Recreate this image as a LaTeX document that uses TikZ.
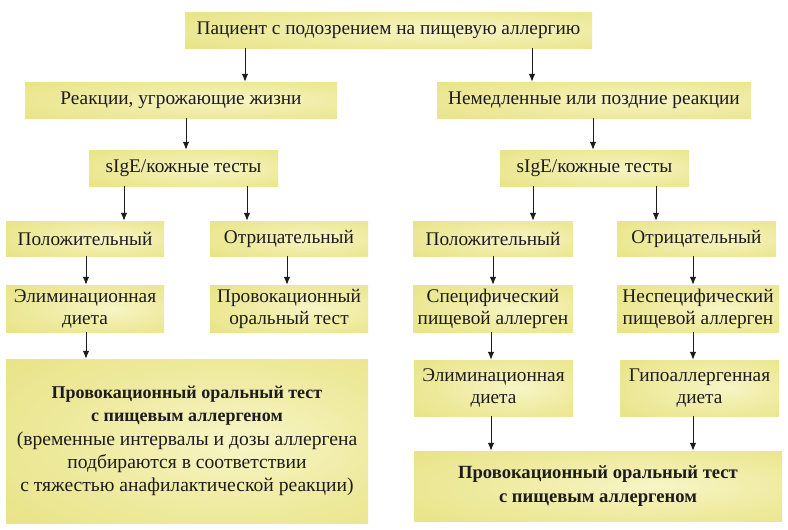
\documentclass[tikz,border=0pt]{standalone}
\usepackage{fontspec}
\setmainfont{Liberation Serif}
\usetikzlibrary{arrows.meta}
\definecolor{bxout}{RGB}{229,224,122}
\definecolor{bxmid}{RGB}{238,234,158}
\definecolor{bxin}{RGB}{247,245,198}
\definecolor{ink}{RGB}{30,27,28}
\pgfdeclareradialshading{boxshade}{\pgfpoint{8bp}{0bp}}{color(0bp)=(bxin); color(22bp)=(bxmid); color(48bp)=(bxout); color(80bp)=(bxout)}
\tikzset{
  box/.style={shading=boxshade, inner sep=0pt, align=center, text=ink,
    font=\fontsize{19.3}{22}\selectfont},
  arr/.style={draw=ink, line width=1pt, -{Latex[length=8pt,width=6.5pt]}},
}
\newcommand{\bfl}[1]{{\fontsize{18}{23}\selectfont\bfseries #1}}
\newcommand{\bfr}[1]{{\fontsize{18.6}{24}\selectfont\bfseries #1}}
\begin{document}
\begin{tikzpicture}[x=1pt,y=-1pt]
\useasboundingbox[fill=white] (0,0) rectangle (788,530);
\node[box, minimum width=407pt, minimum height=36pt] (top) at (388.5,30) {Пациент с подозрением на пищевую аллергию};
\node[box, minimum width=312pt, minimum height=36pt] (r1l) at (181,100) {Реакции, угрожающие жизни};
\node[box, minimum width=314pt, minimum height=36pt] (r1r) at (594,100) {Немедленные или поздние реакции};
\node[box, minimum width=189pt, minimum height=36pt] (sl) at (183.5,168) {sIgE/кожные тесты};
\node[box, minimum width=189pt, minimum height=36pt] (sr) at (594.5,168) {sIgE/кожные тесты};
\node[box, minimum width=158pt, minimum height=35pt] (posl) at (85,238.5) {Положительный};
\node[box, minimum width=158pt, minimum height=35pt] (negl) at (289,238.5) {Отрицательный};
\node[box, minimum width=160pt, minimum height=35pt] (posr) at (493,238.5) {Положительный};
\node[box, minimum width=159pt, minimum height=35pt] (negr) at (696.5,238.5) {Отрицательный};
\node[box, minimum width=158pt, minimum height=47pt] (eliml) at (85,308.5) {Элиминационная\\диета};
\node[box, minimum width=158pt, minimum height=47pt] (provl) at (289,308.5) {Провокационный\\оральный тест};
\node[box, minimum width=160pt, minimum height=47pt] (spec) at (493,308.5) {Специфический\\пищевой аллерген};
\node[box, minimum width=162pt, minimum height=47pt] (nonspec) at (698,308.5) {Неспецифический\\пищевой аллерген};
\node[box, minimum width=362pt, minimum height=164pt, font=\fontsize{19.6}{23.2}\selectfont] (big) at (187,441) {\bfl{Провокационный оральный тест}\\\bfl{с пищевым аллергеном}\\(временные интервалы и дозы аллергена\\подбираются в соответствии\\с тяжестью анафилактической реакции)};
\node[box, minimum width=159pt, minimum height=56pt] (elimr) at (493.5,388) {Элиминационная\\диета};
\node[box, minimum width=159pt, minimum height=56pt] (hypo) at (699.5,388) {Гипоаллергенная\\диета};
\node[box, minimum width=368pt, minimum height=70pt, font=\fontsize{18.6}{24}\selectfont] (bottom) at (598,486) {\bfr{Провокационный оральный тест}\\\bfr{с пищевым аллергеном}};
% arrows
\draw[arr] ([xshift=64pt]r1l.north |- top.south) -- ([xshift=64pt]r1l.north);
\draw[arr] ([xshift=-62pt]r1r.north |- top.south) -- ([xshift=-62pt]r1r.north);
\draw[arr] ([xshift=2.5pt]sl.north |- r1l.south) -- ([xshift=2.5pt]sl.north);
\draw[arr] ([xshift=-1.5pt]sr.north |- r1r.south) -- ([xshift=-1.5pt]sr.north);
\draw[arr] ([xshift=39pt]posl.north |- sl.south) -- ([xshift=39pt]posl.north);
\draw[arr] ([xshift=-42pt]negl.north |- sl.south) -- ([xshift=-42pt]negl.north);
\draw[arr] ([xshift=40pt]posr.north |- sr.south) -- ([xshift=40pt]posr.north);
\draw[arr] ([xshift=-40.5pt]negr.north |- sr.south) -- ([xshift=-40.5pt]negr.north);
\draw[arr] ([xshift=1pt]posl.south) -- ([xshift=1pt]eliml.north);
\draw[arr] ([xshift=-2pt]negl.south) -- ([xshift=-2pt]provl.north);
\draw[arr] (posr.south) -- (spec.north);
\draw[arr] ([xshift=-3.5pt]negr.south) -- ([xshift=-3.5pt]negr.south |- nonspec.north);
\draw[arr] ([xshift=1pt]eliml.south) -- ([xshift=1pt]eliml.south |- big.north);
\draw[arr] ([xshift=-2pt]spec.south) -- ([xshift=-2pt]spec.south |- elimr.north);
\draw[arr] ([xshift=-5pt]nonspec.south) -- ([xshift=-5pt]nonspec.south |- hypo.north);
\draw[arr] ([xshift=-2.5pt]elimr.south) -- ([xshift=-2.5pt]elimr.south |- bottom.north);
\draw[arr] ([xshift=-6.5pt]hypo.south) -- ([xshift=-6.5pt]hypo.south |- bottom.north);
\end{tikzpicture}
\end{document}
